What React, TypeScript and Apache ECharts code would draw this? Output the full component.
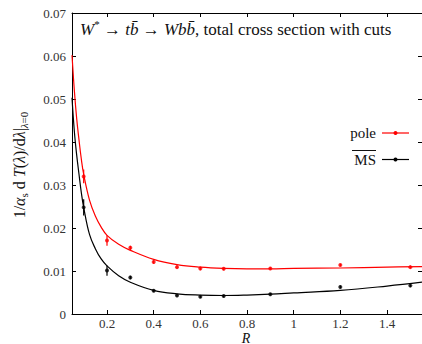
import React, { useEffect, useRef } from "react";
import * as echarts from "echarts";

const R_POINTS = [0.1, 0.2, 0.3, 0.4, 0.5, 0.6, 0.7, 0.9, 1.2, 1.5];
const POLE_VALUES = [0.032, 0.0171, 0.0154, 0.0121, 0.0109, 0.0106, 0.0105, 0.0106, 0.0114, 0.0109];
const POLE_ERRORS = [0.0016, 0.0012, 0.0005, 0.0004, 0.0004, 0.0004, 0.0003, 0.0003, 0.0003, 0.0003];
const MS_VALUES = [0.0248, 0.0101, 0.0085, 0.0054, 0.0043, 0.004, 0.0042, 0.0046, 0.0063, 0.0066];
const MS_ERRORS = [0.0019, 0.0012, 0.0004, 0.0003, 0.0003, 0.0003, 0.0003, 0.0003, 0.0003, 0.0003];

const CURVE_R = [0.05, 0.06, 0.07, 0.08, 0.09, 0.1, 0.125, 0.15, 0.175, 0.2, 0.25, 0.3, 0.4, 0.5, 0.6, 0.7, 0.8, 0.9, 1.0, 1.2, 1.4, 1.55];
const POLE_CURVE = [0.0602, 0.052, 0.0455, 0.0405, 0.036, 0.0325, 0.0265, 0.0228, 0.0202, 0.0183, 0.0162, 0.0148, 0.0127, 0.0115, 0.0109, 0.0106, 0.0105, 0.0105, 0.0106, 0.0107, 0.0109, 0.011];
const MS_CURVE = [0.0503, 0.0425, 0.037, 0.0325, 0.0282, 0.0248, 0.0185, 0.0152, 0.0128, 0.0112, 0.0089, 0.0074, 0.0055, 0.0047, 0.0044, 0.0043, 0.0044, 0.0046, 0.0049, 0.0055, 0.0065, 0.0074];

const X_TICKS = [0.2, 0.4, 0.6, 0.8, 1, 1.2, 1.4];
const SERIES_NAMES = ["pole", "MS"];
const TITLE = ", total cross section with cuts";

const RED = "#ff0000";
const BLACK = "#000000";
const FONT = "Liberation Serif";

export default function App() {
  const ref = useRef<HTMLDivElement>(null);
  useEffect(() => {
    if (!ref.current) return;
    const chart = echarts.init(ref.current, undefined, { renderer: "svg" });

    const errSeries = (values: number[], errors: number[], color: string) => ({
      type: "custom",
      xAxisIndex: 0,
      yAxisIndex: 0,
      data: R_POINTS.map((r, i) => [r, values[i] - errors[i], values[i] + errors[i]]),
      encode: { x: 0, y: [1, 2] },
      renderItem: (_p: any, api: any) => {
        const a = api.coord([api.value(0), api.value(1)]);
        const b = api.coord([api.value(0), api.value(2)]);
        return {
          type: "line",
          shape: { x1: a[0], y1: a[1], x2: b[0], y2: b[1] },
          style: { stroke: color, lineWidth: 1.2 },
        };
      },
      z: 3,
    });

    const baseX = {
      type: "value",
      min: 0.05,
      max: 1.55,
      splitLine: { show: false },
      axisLine: { show: true, onZero: false, lineStyle: { color: BLACK, width: 1 } },
      axisTick: { show: true, inside: true, length: 4, customValues: X_TICKS, lineStyle: { color: BLACK } },
    };
    const baseY = {
      type: "value",
      min: 0,
      max: 0.07,
      interval: 0.01,
      splitLine: { show: false },
      axisLine: { show: true, onZero: false, lineStyle: { color: BLACK, width: 1 } },
      axisTick: { show: true, inside: true, length: 4, lineStyle: { color: BLACK } },
    };

    chart.setOption({
      animation: false,
      backgroundColor: "#ffffff",
      grid: { left: 72, top: 13, width: 350, height: 301, containLabel: false },
      xAxis: [
        {
          ...baseX,
          position: "bottom",
          axisLabel: {
            show: true,
            customValues: X_TICKS,
            margin: 3,
            fontFamily: FONT,
            fontSize: 13,
            lineHeight: 13,
            color: "#333",
            formatter: (v: number) => String(Math.round(v * 10) / 10),
          },
        },
        { ...baseX, position: "top", axisLabel: { show: false } },
      ],
      yAxis: [
        {
          ...baseY,
          position: "left",
          axisLabel: {
            show: true,
            margin: 6,
            fontFamily: FONT,
            fontSize: 13,
            color: "#333",
            formatter: (v: number) => (v === 0 ? "0" : v.toFixed(2)),
          },
        },
        { ...baseY, position: "right", axisLabel: { show: false } },
      ],
      series: [
        {
          name: SERIES_NAMES[0] + " fit",
          type: "line",
          data: CURVE_R.map((r, i) => [r, POLE_CURVE[i]]),
          smooth: 0.4,
          showSymbol: false,
          lineStyle: { color: RED, width: 1.2 },
          z: 2,
        },
        {
          name: SERIES_NAMES[1] + " fit",
          type: "line",
          data: CURVE_R.map((r, i) => [r, MS_CURVE[i]]),
          smooth: 0.4,
          showSymbol: false,
          lineStyle: { color: BLACK, width: 1.2 },
          z: 2,
        },
        errSeries(POLE_VALUES, POLE_ERRORS, RED),
        errSeries(MS_VALUES, MS_ERRORS, BLACK),
        {
          name: SERIES_NAMES[0],
          type: "scatter",
          data: R_POINTS.map((r, i) => [r, POLE_VALUES[i]]),
          symbol: "circle",
          symbolSize: 4,
          itemStyle: { color: RED },
          z: 4,
        },
        {
          name: SERIES_NAMES[1],
          type: "scatter",
          data: R_POINTS.map((r, i) => [r, MS_VALUES[i]]),
          symbol: "circle",
          symbolSize: 4,
          itemStyle: { color: BLACK },
          z: 4,
        },
      ],
      graphic: [
        {
          type: "text",
          left: 80,
          top: 18,
          style: {
            text: "{i|W}{sup|*}{n| → }{i|t}{i|b\u0304}{n| → }{i|Wb}{i|b\u0304}{n|" + TITLE + "}",
            fontFamily: FONT,
            fontSize: 17,
            rich: {
              n: { fontFamily: FONT, fontSize: 17, lineHeight: 22, fill: "#111" },
              i: { fontFamily: FONT, fontSize: 17, fontStyle: "italic", lineHeight: 22, fill: "#111" },
              sup: { fontFamily: FONT, fontSize: 11, lineHeight: 11, verticalAlign: "top", fill: "#111" },
            },
          },
        },
        {
          type: "text",
          x: 19,
          y: 165,
          rotation: Math.PI / 2,
          style: {
            text: "{n|1/}{i|α}{s|s}{n| d }{i|T}{n|(}{i|λ}{n|)/d}{i|λ}{n||}{si|λ}{s|=0}",
            align: "center",
            verticalAlign: "middle",
            fontFamily: FONT,
            fontSize: 16,
            rich: {
              n: { fontFamily: FONT, fontSize: 16, lineHeight: 20, fill: "#111" },
              i: { fontFamily: FONT, fontSize: 16, fontStyle: "italic", lineHeight: 20, fill: "#111" },
              s: { fontFamily: FONT, fontSize: 11, lineHeight: 10, verticalAlign: "bottom", fill: "#111" },
              si: { fontFamily: FONT, fontSize: 11, fontStyle: "italic", lineHeight: 10, verticalAlign: "bottom", fill: "#111" },
            },
          },
        },
        {
          type: "text",
          x: 246,
          y: 338,
          style: {
            text: "R",
            fontFamily: FONT,
            fontSize: 14,
            lineHeight: 12,
            fontStyle: "italic",
            align: "center",
            verticalAlign: "middle",
            fill: "#111",
          },
        },
        {
          type: "text",
          x: 376,
          y: 133,
          style: { text: SERIES_NAMES[0], fontFamily: FONT, fontSize: 15, align: "right", verticalAlign: "middle", fill: "#111" },
        },
        { type: "line", shape: { x1: 382, y1: 133, x2: 409, y2: 133 }, style: { stroke: RED, lineWidth: 1.2 } },
        { type: "circle", shape: { cx: 395.5, cy: 133, r: 2 }, style: { fill: RED } },
        {
          type: "text",
          x: 376,
          y: 160,
          style: { text: SERIES_NAMES[1], fontFamily: FONT, fontSize: 15, align: "right", verticalAlign: "middle", fill: "#111" },
        },
        { type: "line", shape: { x1: 352, y1: 150.5, x2: 376, y2: 150.5 }, style: { stroke: "#111", lineWidth: 1 } },
        { type: "line", shape: { x1: 382, y1: 159.5, x2: 409, y2: 159.5 }, style: { stroke: BLACK, lineWidth: 1.2 } },
        { type: "circle", shape: { cx: 395.5, cy: 159.5, r: 2 }, style: { fill: BLACK } },
      ],
    });
    return () => chart.dispose();
  }, []);
  return (
    <div
      ref={ref}
      style={{ position: "absolute", left: 0, top: 0, width: 422, height: 344, background: "#fff" }}
    />
  );
}
